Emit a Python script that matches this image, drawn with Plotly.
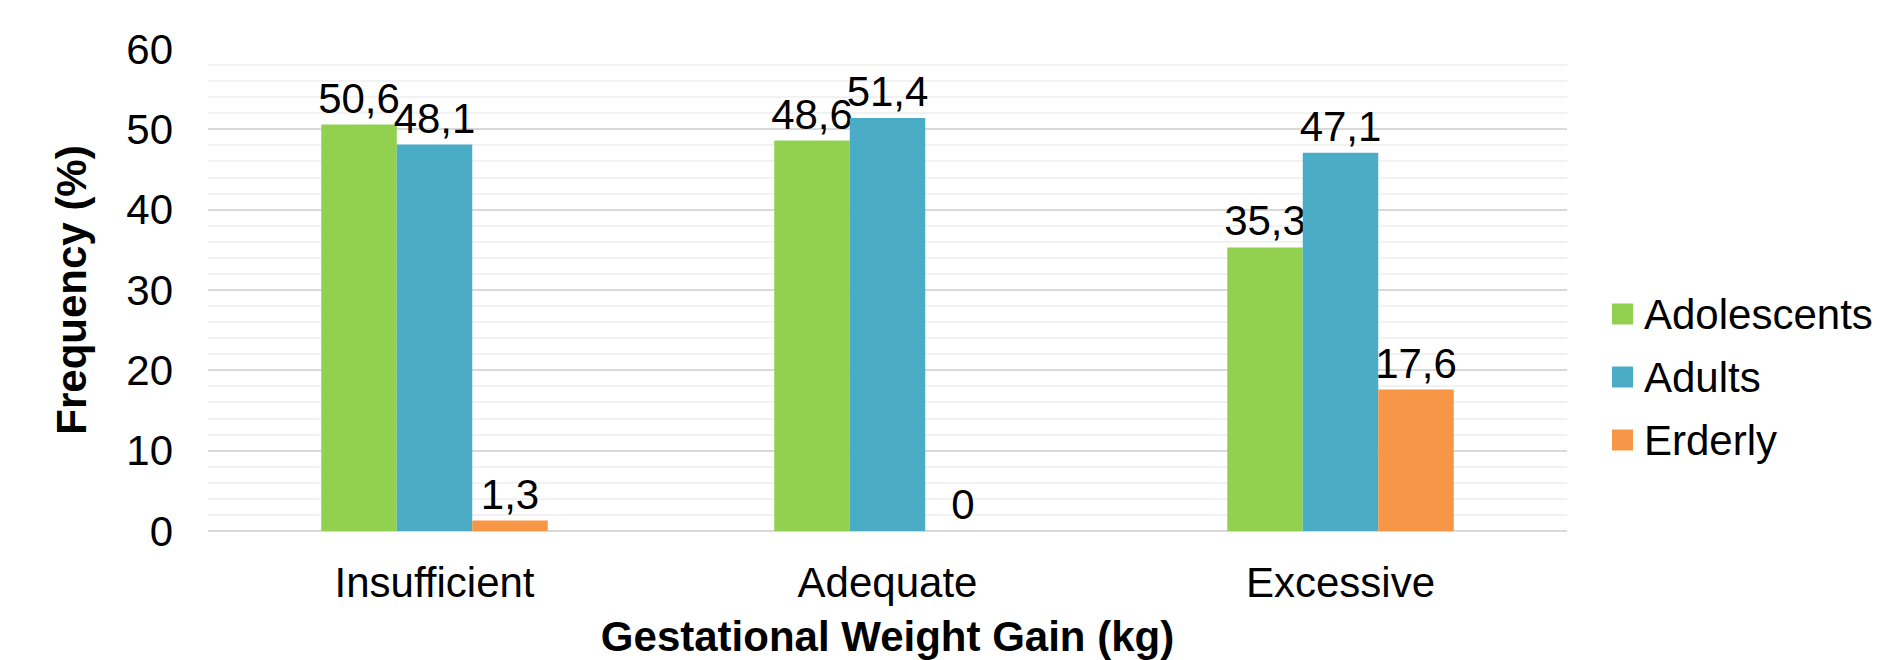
import plotly.graph_objects as go

categories = ["Insufficient", "Adequate", "Excessive"]
adolescents = [50.6, 48.6, 35.3]
adults = [48.1, 51.4, 47.1]
elderly = [1.3, 0, 17.6]
series_names = ["Adolescents", "Adults", "Erderly"]
colors = ["#92D050", "#4BACC6", "#F79646"]
y_ticks = [0, 10, 20, 30, 40, 50, 60]

FONT = "Liberation Sans, Arial, sans-serif"
FS = 42

W, H = 1882, 660
ML, MR, MT, MB = 208, 315, 49, 129


def fmt(v):
    return ("%g" % v).replace(".", ",")


fig = go.Figure()
for name, vals, col in zip(series_names, [adolescents, adults, elderly], colors):
    fig.add_trace(go.Bar(
        x=categories, y=vals, name=name,
        marker=dict(color=col, line=dict(width=0)),
        text=[fmt(v) for v in vals],
        textposition="outside",
        constraintext="none",
        textfont=dict(family=FONT, size=FS, color="#000000"),
        cliponaxis=False,
        showlegend=False,
        hoverinfo="skip",
    ))

# legend (drawn as squares + labels, in paper coordinates)
plot_w = W - ML - MR
plot_h = H - MT - MB
legend_left_px = 1612
legend_top_center_px = 314
legend_step_px = 63
sq = 21
for i, (name, col) in enumerate(zip(series_names, colors)):
    cy = legend_top_center_px + i * legend_step_px
    x0 = (legend_left_px - ML) / plot_w
    x1 = (legend_left_px + sq - ML) / plot_w
    y0 = (H - MB - (cy + sq / 2)) / plot_h
    y1 = (H - MB - (cy - sq / 2)) / plot_h
    fig.add_shape(type="rect", xref="paper", yref="paper",
                  x0=x0, x1=x1, y0=y0, y1=y1,
                  fillcolor=col, line=dict(width=0))
    fig.add_annotation(xref="paper", yref="paper",
                       x=(legend_left_px + sq + 9 - ML) / plot_w,
                       y=(H - MB - cy) / plot_h,
                       xanchor="left", yanchor="middle", showarrow=False,
                       text=name, font=dict(family=FONT, size=FS, color="#000000"))

fig.update_layout(
    width=W, height=H,
    margin=dict(l=ML, r=MR, t=MT, b=MB, autoexpand=False),
    paper_bgcolor="white", plot_bgcolor="white",
    barmode="group", bargap=0.5, bargroupgap=0,
    font=dict(family=FONT, size=FS, color="#000000"),
    showlegend=False,
)
fig.update_xaxes(
    showgrid=False, showline=False, ticks="", automargin=False,
    tickfont=dict(family=FONT, size=FS, color="#000000"),
    ticklabelstandoff=23,
    title=dict(text="<b>Gestational Weight Gain (kg)</b>",
               font=dict(family=FONT, size=FS, color="#000000"), standoff=18),
)
fig.update_yaxes(
    range=[0, 60], tickvals=y_ticks, ticktext=[str(t) for t in y_ticks],
    showgrid=True, gridcolor="#D9D9D9", gridwidth=2,
    zeroline=True, zerolinecolor="#D9D9D9", zerolinewidth=2,
    minor=dict(dtick=2, showgrid=True, gridcolor="#F2F2F2", gridwidth=2),
    showline=False, ticks="", automargin=False,
    tickfont=dict(family=FONT, size=FS, color="#000000"),
    ticklabelstandoff=34,
    title=dict(text="<b>Frequency (%)</b>",
               font=dict(family=FONT, size=FS, color="#000000"), standoff=26),
)

fig.write_html(
    "out.html",
    config={"displayModeBar": False, "staticPlot": True},
    post_script="document.body.style.margin='0';document.body.style.overflow='hidden';",
)
